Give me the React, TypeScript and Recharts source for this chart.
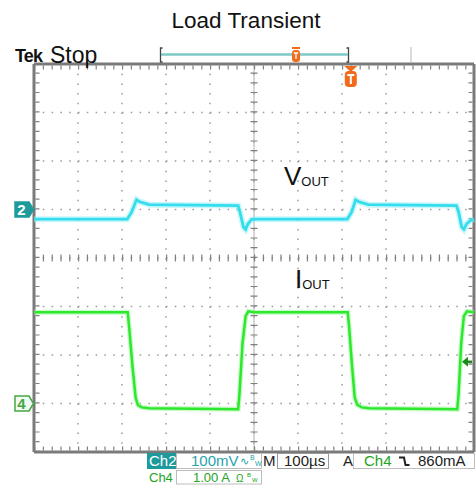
import { LineChart, Line, XAxis, YAxis, CartesianGrid, ReferenceLine, ReferenceDot } from "recharts";

// screen: 10 divisions of 100 µs across, 8 divisions up/down
const timeTicks = [0, 100, 200, 300, 400, 500, 600, 700, 800, 900, 1000];
const divTicks = [-4, -3, -2, -1, 0, 1, 2, 3, 4];

// Ch2 - V_OUT, 100 mV/div, mV relative to the channel marker
const voutTime = [0, 212, 222, 233, 240, 262, 464, 468, 476, 481, 486, 494, 500, 712, 722, 731, 738, 760, 960, 965, 972, 977, 983, 991, 1000];
const voutMv = [-20, -20, -5, 20, 16, 10, 8, -5, -36, -41, -30, -21, -20, -20, -5, 20, 16, 10, 8, -5, -36, -41, -30, -23, -20];

// Ch4 - I_OUT, 1.00 A/div
const ioutTime = [0, 213, 216, 224, 231, 236, 245, 262, 464, 467, 474, 481, 487, 500, 713, 716, 723, 729, 735, 745, 762, 962, 965, 971, 977, 984, 1000];
const ioutAmp = [1.88, 1.88, 1.6, 0.75, 0.12, -0.03, -0.08, -0.1, -0.12, 0.2, 1.25, 1.8, 1.9, 1.88, 1.88, 1.6, 0.75, 0.12, -0.03, -0.08, -0.1, -0.12, 0.2, 1.25, 1.8, 1.9, 1.88];

const ch2Pos = 1; // divisions above centre
const ch4Pos = -3;
const ch2Scale = 100; // mV/div
const ch4Scale = 1; // A/div
const triggerTime = 720; // µs
const triggerLevel = 0.86; // A

const W = 476;
const H = 485;
const M = { top: 64, right: 2, bottom: 33, left: 34 };
const usPerPx = 1000 / (W - M.left - M.right);
const divPerPx = 8 / (H - M.top - M.bottom);

const voutData = voutTime.map((t, i) => ({ t, y: ch2Pos + voutMv[i] / ch2Scale }));
const ioutData = ioutTime.map((t, i) => ({ t, y: ch4Pos + ioutAmp[i] / ch4Scale }));

const frame = "#7a7a7a";
const dots = "#9a9a9a";
const teal = "#1f9a9c";
const tealText = "#26a3ab";
const green = "#22a322";
const orange = "#f26b1a";
const font = "'Liberation Sans', Arial, sans-serif";

function ChannelMarker({ cx, cy, label, filled }: any) {
  const col = filled ? teal : "#44a844";
  return (
    <g>
      <path
        d={`M${cx - 19},${cy - 7.5} h14 l4.5,7.5 l-4.5,7.5 h-14 z`}
        fill={filled ? teal : "#f2fbf2"}
        stroke={col}
        strokeWidth={1.5}
      />
      <text x={cx - 12.5} y={cy + 5.5} textAnchor="middle" fontSize={15} fontWeight="bold" fill={filled ? "#fff" : col} fontFamily={font}>
        {label}
      </text>
    </g>
  );
}

function TriggerPos({ cx, cy }: any) {
  return (
    <g>
      <path d={`M${cx - 6.5},${cy + 2} h13 l-6.5,6 z`} fill={orange} />
      <rect x={cx - 6} y={cy + 7} width={12} height={16} rx={4} fill={orange} />
      <path d={`M${cx - 3.5},${cy + 11} h7 M${cx},${cy + 11} v9`} stroke="#fff" strokeWidth={2} />
    </g>
  );
}

function LevelArrow({ cx, cy }: any) {
  return (
    <g>
      <path d={`M${cx - 12},${cy} l6,-5 v10 z`} fill="#1d8a1d" />
      <path d={`M${cx - 7},${cy} h5`} stroke="#1d8a1d" strokeWidth={2.5} />
    </g>
  );
}

export default function App() {
  return (
    <div style={{ position: "absolute", left: 0, top: 0, width: W, height: H, background: "#fff" }}>
      <LineChart width={W} height={H} margin={M}>
        <XAxis type="number" dataKey="t" domain={[0, 1000]} ticks={timeTicks} hide />
        <YAxis type="number" domain={[-4, 4]} ticks={divTicks} hide allowDataOverflow />
        <CartesianGrid horizontal vertical={false} stroke={dots} strokeWidth={1.5} strokeDasharray="1.5 7.3" />
        <CartesianGrid horizontal={false} vertical stroke={dots} strokeWidth={1.5} strokeDasharray="1.5 8.2" />

        {/* centre cross with minor ticks */}
        <ReferenceLine x={500} stroke="#b0b0b0" strokeWidth={1} />
        <ReferenceLine x={500} stroke="#808080" strokeWidth={7} strokeDasharray="1.2 8.5" />
        <ReferenceLine y={0} stroke="#808080" strokeWidth={7} strokeDasharray="1.2 7.6" />

        {/* frame ticks just inside the border */}
        <ReferenceLine x={3.5 * usPerPx} stroke="#808080" strokeWidth={4} strokeDasharray="1.2 8.5" />
        <ReferenceLine x={1000 - 3.5 * usPerPx} stroke="#808080" strokeWidth={4} strokeDasharray="1.2 8.5" />
        <ReferenceLine y={4 - 3.5 * divPerPx} stroke="#808080" strokeWidth={4} strokeDasharray="1.2 7.6" />
        <ReferenceLine y={-4 + 3.5 * divPerPx} stroke="#808080" strokeWidth={4} strokeDasharray="1.2 7.6" />

        {/* frame */}
        <ReferenceLine x={0} stroke={frame} strokeWidth={3} />
        <ReferenceLine x={1000} stroke={frame} strokeWidth={3} />
        <ReferenceLine y={4} stroke={frame} strokeWidth={3} />
        <ReferenceLine y={-4} stroke={frame} strokeWidth={3} />

        <Line data={voutData} dataKey="y" type="linear" stroke="#8ff0f8" strokeWidth={6} strokeOpacity={0.5} dot={false} isAnimationActive={false} />
        <Line data={voutData} dataKey="y" type="linear" stroke="#35dced" strokeWidth={2.8} dot={false} isAnimationActive={false} />
        <Line data={ioutData} dataKey="y" type="linear" stroke="#90f590" strokeWidth={5} strokeOpacity={0.5} dot={false} isAnimationActive={false} />
        <Line data={ioutData} dataKey="y" type="linear" stroke="#2ee82e" strokeWidth={2.5} dot={false} isAnimationActive={false} />

        <ReferenceDot x={0} y={ch2Pos} r={0} shape={(p: any) => <ChannelMarker {...p} label="2" filled />} />
        <ReferenceDot x={0} y={ch4Pos} r={0} shape={(p: any) => <ChannelMarker {...p} label="4" />} />
        <ReferenceDot x={triggerTime} y={4} r={0} shape={(p: any) => <TriggerPos {...p} />} />
        <ReferenceDot x={1000} y={ch4Pos + triggerLevel / ch4Scale} r={0} shape={(p: any) => <LevelArrow {...p} />} />
      </LineChart>

      <svg width={W} height={H} style={{ position: "absolute", left: 0, top: 0, pointerEvents: "none" }} fontFamily={font}>
        <text x={246} y={28} textAnchor="middle" fontSize={22.5} fill="#111">Load Transient</text>
        <text x={15} y={62} fontSize={18} fontWeight="bold" fill="#111" fontFamily="'Liberation Sans Narrow', 'Liberation Sans', Arial, sans-serif" letterSpacing={-0.8}>Tek</text>
        <text x={50} y={63} fontSize={23} fill="#111">Stop</text>

        {/* record view bracket */}
        <path d="M162.5,48 h-2 v14 h2 M346.5,48 h2 v14 h-2" stroke="#444" strokeWidth={1.3} fill="none" />
        <line x1={161} x2={348} y1={54.5} y2={54.5} stroke="#7cc9c6" strokeWidth={2.5} />
        <path d="M292,48 h8" stroke={orange} strokeWidth={2} />
        <rect x={292} y={50} width={8} height={12} rx={3} fill={orange} />
        <path d="M293.8,53 h4.4 M296,53 v6" stroke="#fff" strokeWidth={1.3} />
        <line x1={411} x2={411} y1={47} y2={62} stroke="#cfcfcf" strokeWidth={1.5} />

        {/* trace labels */}
        <text x={284} y={185} fontSize={26} fill="#111">V<tspan fontSize={13} dy={1}>OUT</tspan></text>
        <text x={295} y={288} fontSize={26} fill="#111">I<tspan fontSize={13} dy={1}>OUT</tspan></text>

        {/* readouts */}
        <rect x={147} y={453} width={29} height={16} fill={teal} />
        <text x={149} y={466} fontSize={15} fill="#fff">Ch2</text>
        <rect x={176.5} y={453.5} width={85} height={15} fill="none" stroke="#bdbdbd" />
        <text x={191} y={466} fontSize={15} fill={tealText}>100mV</text>
        <text x={240} y={465} fontSize={11} fill={tealText}>∿</text>
        <text x={250} y={460} fontSize={7} fill={tealText}>B</text>
        <text x={255} y={466} fontSize={7} fill={tealText}>W</text>
        <text x={263} y={466} fontSize={15} fill="#222">M</text>
        <rect x={277.5} y={453.5} width={51} height={15} fill="none" stroke="#9a9a9a" />
        <text x={284} y={466} fontSize={15} fill="#222">100µs</text>
        <text x={343} y={466} fontSize={15} fill="#222">A</text>
        <rect x={353.5} y={453.5} width={121} height={15} fill="none" stroke="#bdbdbd" />
        <text x={364} y={466} fontSize={15} fill={green}>Ch4</text>
        <path d="M399,457.5 h5 l1.5,7.5 h4" stroke="#222" strokeWidth={2} fill="none" />
        <text x={418} y={466} fontSize={15} fill="#222">860mA</text>

        <text x={149} y={482} fontSize={13} fill={green}>Ch4</text>
        <rect x={176.5} y={470.5} width={85} height={13.5} fill="none" stroke="#bdbdbd" />
        <text x={193} y={482} fontSize={13} fill={green}>1.00 A</text>
        <text x={236} y={482} fontSize={10} fill={green}>Ω</text>
        <text x={247} y={477} fontSize={6} fill={green}>B</text>
        <text x={252} y={482} fontSize={6} fill={green}>W</text>
      </svg>
    </div>
  );
}
